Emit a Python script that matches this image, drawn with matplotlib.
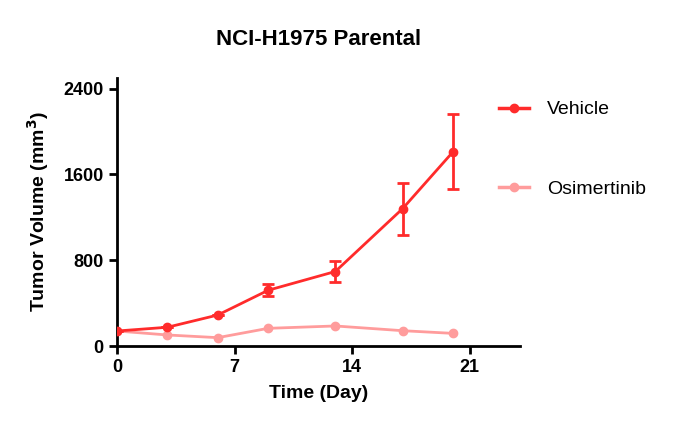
import matplotlib
matplotlib.use("Agg")
import matplotlib.pyplot as plt
from matplotlib.lines import Line2D

plt.rcParams['font.family'] = ['Liberation Sans', 'DejaVu Sans']

days_vehicle = [0, 3, 6, 9, 13, 17, 20]
vehicle = [140, 175, 289, 520, 695, 1280, 1810]
vehicle_sem = [0, 0, 0, 55, 95, 240, 350]

days_osi = [0, 3, 6, 9, 13, 17, 20]
osimertinib = [140, 103, 78, 165, 187, 143, 118]

c_veh = '#ff2b2b'
c_osi = '#ff9c9c'

fig = plt.figure(figsize=(6.74, 4.38), dpi=100)
ax = fig.add_axes([0.1736, 0.21, 0.598, 0.612])

ax.errorbar(days_vehicle, vehicle, yerr=vehicle_sem, color=c_veh, marker='o',
            markersize=6, linewidth=2, capsize=4, capthick=2, elinewidth=2,
            zorder=3)
ax.plot(days_osi, osimertinib, color=c_osi, marker='o', markersize=6,
        linewidth=2, zorder=2)

ax.set_xlim(0, 24)
ax.set_ylim(0, 2500)
ax.set_xticks([0, 7, 14, 21])
ax.set_yticks([0, 800, 1600, 2400])
for s in ['top', 'right']:
    ax.spines[s].set_visible(False)
for s in ['left', 'bottom']:
    ax.spines[s].set_linewidth(2)
ax.tick_params(width=2, length=6, labelsize=13)
for lbl in ax.get_xticklabels() + ax.get_yticklabels():
    lbl.set_fontweight('bold')

ax.set_xlabel('Time (Day)', fontsize=14, fontweight='bold', labelpad=6)
ax.set_ylabel('Tumor Volume (mm$^\\mathbf{3}$)', fontsize=14, fontweight='bold', labelpad=9)
ax.set_title('NCI-H1975 Parental', fontsize=16, fontweight='bold', pad=24)

handles = [Line2D([], [], color=c_veh, marker='o', markersize=6, linewidth=2.5),
           Line2D([], [], color=c_osi, marker='o', markersize=6, linewidth=2.5)]
ax.legend(handles, ['Vehicle', 'Osimertinib'], loc='upper left',
          bbox_to_anchor=(0.905, 0.98), frameon=False, fontsize=14,
          labelspacing=3.2, handlelength=1.55, handletextpad=0.9)

fig.savefig('out.png', dpi=100)
